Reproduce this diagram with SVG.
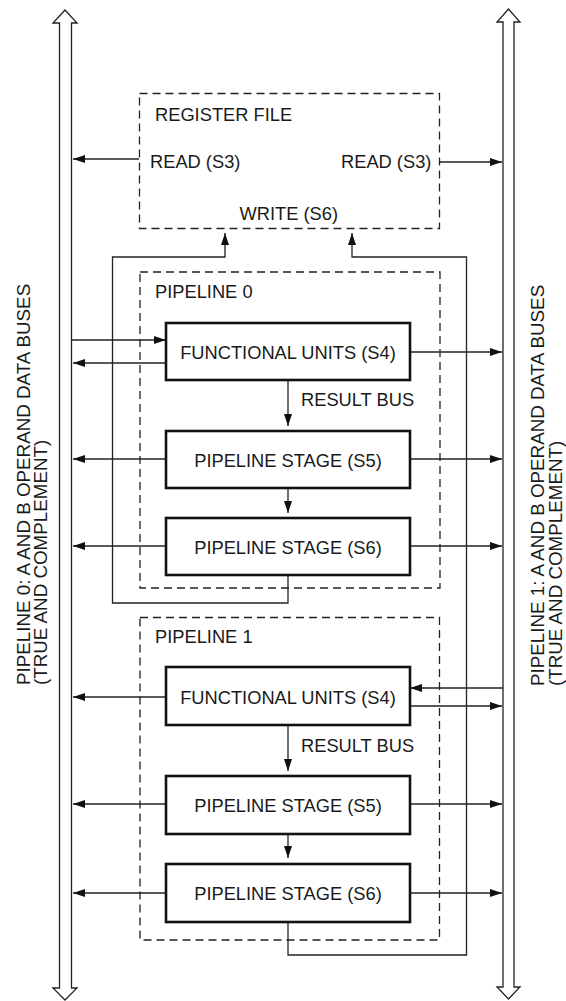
<svg xmlns="http://www.w3.org/2000/svg" width="566" height="1001" viewBox="0 0 566 1001">
<defs>
<style>
text{font-family:"Liberation Sans",Arial,Helvetica,sans-serif;font-size:18.3px;fill:#1a1a1a}
.side{font-size:18.8px}
.mid{text-anchor:middle}
.dash{fill:none;stroke:#222;stroke-width:1.3;stroke-dasharray:8 5}
.box{fill:#fff;stroke:#111;stroke-width:2.6}
.bus{fill:#fff;stroke:#222;stroke-width:1.3;stroke-linejoin:miter}
.c{fill:none;stroke:#222;stroke-width:1.3}
.a{marker-end:url(#ah)}
</style>
<marker id="ah" markerUnits="userSpaceOnUse" markerWidth="12" markerHeight="8" refX="12" refY="4" orient="auto">
<path d="M0,0 L12,4 L0,8 z" fill="#111"/>
</marker>
</defs>
<rect width="566" height="1001" fill="#fff"/>

<g id="bus-pipeline-0">
<path class="bus" d="M65,10 L53,23 L59.5,23 L59.5,988 L53,988 L65,1000 L77,988 L71.5,988 L71.5,23 L77,23 Z"/>
<text class="side" transform="translate(29.5,685) rotate(-90)">PIPELINE 0: A AND B OPERAND DATA BUSES</text>
<text class="side" transform="translate(46.5,685) rotate(-90)">(TRUE AND COMPLEMENT)</text>
</g>

<g id="bus-pipeline-1">
<path class="bus" d="M508.5,9 L497,22 L503,22 L503,987 L497,987 L508.5,999 L520,987 L514,987 L514,22 L520,22 Z"/>
<text class="side" transform="translate(543.5,686) rotate(-90)">PIPELINE 1: A AND B OPERAND DATA BUSES</text>
<text class="side" transform="translate(562,686) rotate(-90)">(TRUE AND COMPLEMENT)</text>
</g>

<g id="connectors">
<line class="c a" x1="139" y1="159" x2="73" y2="159"/>
<line class="c a" x1="439" y1="162" x2="502" y2="162"/>
<polyline class="c a" points="288,575 288,603 112.5,603 112.5,257 225,257 225,233"/>
<polyline class="c a" points="288,922 288,955 466.5,955 466.5,257 352,257 352,233"/>
<line class="c a" x1="72" y1="340" x2="166" y2="340"/>
<line class="c a" x1="166" y1="363" x2="73" y2="363"/>
<line class="c a" x1="410" y1="352" x2="502" y2="352"/>
<line class="c a" x1="288" y1="380" x2="288" y2="426"/>
<line class="c a" x1="166" y1="459" x2="73" y2="459"/>
<line class="c a" x1="410" y1="459" x2="502" y2="459"/>
<line class="c a" x1="288" y1="488" x2="288" y2="513"/>
<line class="c a" x1="166" y1="546" x2="73" y2="546"/>
<line class="c a" x1="410" y1="546" x2="502" y2="546"/>
<line class="c a" x1="166" y1="697" x2="73" y2="697"/>
<line class="c a" x1="503" y1="688" x2="410" y2="688"/>
<line class="c a" x1="410" y1="706" x2="502" y2="706"/>
<line class="c a" x1="288" y1="725" x2="288" y2="771"/>
<line class="c a" x1="166" y1="804" x2="73" y2="804"/>
<line class="c a" x1="410" y1="804" x2="502" y2="804"/>
<line class="c a" x1="288" y1="834" x2="288" y2="858"/>
<line class="c a" x1="166" y1="893" x2="73" y2="893"/>
<line class="c a" x1="410" y1="893" x2="502" y2="893"/>
</g>

<g id="register-file">
<rect class="dash" x="139.5" y="93.5" width="300" height="135"/>
<text x="155" y="121">REGISTER FILE</text>
<text x="150" y="168">READ (S3)</text>
<text x="341" y="168">READ (S3)</text>
<text x="239.5" y="220">WRITE (S6)</text>
</g>

<g id="pipeline-0">
<rect class="dash" x="140" y="272" width="300" height="316"/>
<text x="155" y="298">PIPELINE 0</text>
<text x="301" y="406">RESULT BUS</text>
</g>
<g id="p0-functional-units">
<rect class="box" x="166" y="323" width="244" height="57"/>
<text class="mid" x="288" y="359">FUNCTIONAL UNITS (S4)</text>
</g>
<g id="p0-stage-s5">
<rect class="box" x="166" y="431" width="244" height="57"/>
<text class="mid" x="288" y="467">PIPELINE STAGE (S5)</text>
</g>
<g id="p0-stage-s6">
<rect class="box" x="166" y="518" width="244" height="57"/>
<text class="mid" x="288" y="554">PIPELINE STAGE (S6)</text>
</g>

<g id="pipeline-1">
<rect class="dash" x="140" y="617.5" width="299.5" height="322.5"/>
<text x="155" y="643">PIPELINE 1</text>
<text x="301" y="752">RESULT BUS</text>
</g>
<g id="p1-functional-units">
<rect class="box" x="166" y="667" width="244" height="58"/>
<text class="mid" x="288" y="704">FUNCTIONAL UNITS (S4)</text>
</g>
<g id="p1-stage-s5">
<rect class="box" x="166" y="776" width="244" height="58"/>
<text class="mid" x="288" y="812">PIPELINE STAGE (S5)</text>
</g>
<g id="p1-stage-s6">
<rect class="box" x="166" y="864" width="244" height="58"/>
<text class="mid" x="288" y="900">PIPELINE STAGE (S6)</text>
</g>
</svg>
